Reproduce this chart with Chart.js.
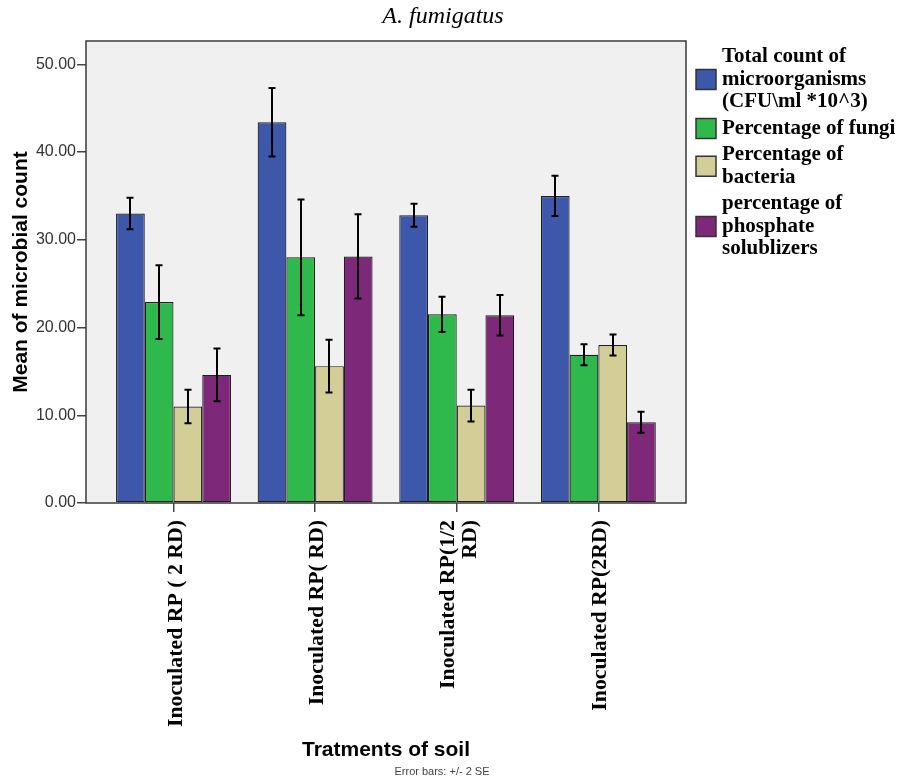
<!DOCTYPE html>
<html>
<head>
<meta charset="utf-8">
<script src="https://cdn.jsdelivr.net/npm/chart.js@4.4.1/dist/chart.umd.min.js"></script>
<style>
html,body{margin:0;padding:0;background:#fff;}
#wrap{width:912px;height:778px;position:relative;}
</style>
</head>
<body>
<div id="wrap"><canvas id="c" width="912" height="778"></canvas></div>
<script>
// ---- data ----
const chartTitle = "A. fumigatus";
const categories = ["Inoculated RP ( 2 RD)", "Inoculated RP( RD)", ["Inoculated RP(1/2", "RD)"], "Inoculated RP(2RD)"];
const seriesNames = [
  ["Total count of", "microorganisms", "(CFU\\ml *10^3)"],
  ["Percentage of fungi"],
  ["Percentage of", "bacteria"],
  ["percentage of", "phosphate", "solublizers"]
];
const totalCount = [33.0, 43.4, 32.8, 35.0];
const fungi      = [22.9, 28.0, 21.5, 16.9];
const bacteria   = [11.0, 15.6, 11.1, 18.0];
const phosphate  = [14.6, 28.1, 21.4, 9.2];
// +/- 2 SE
const totalErr     = [1.8, 3.9, 1.3, 2.3];
const fungiErr     = [4.2, 6.6, 2.0, 1.2];
const bacteriaErr  = [1.9, 3.0, 1.8, 1.2];
const phosphateErr = [3.0, 4.8, 2.3, 1.2];
const yTicks = [0, 10, 20, 30, 40, 50];
const xTitle = "Tratments of soil";
const yTitle = "Mean of microbial count";
const footNote = "Error bars: +/- 2 SE";

// ---- styles ----
const colors = ["#3D58AA", "#2FB84B", "#D3CE97", "#7E2879"];
const seriesVals = [totalCount, fungi, bacteria, phosphate];
const seriesErrs = [totalErr, fungiErr, bacteriaErr, phosphateErr];

const datasets = seriesVals.map((vals, k) => ({
  label: seriesNames[k].join(" "),
  data: vals.map((v, i) => ({ x: i + 1, y: v })),
  errs: seriesErrs[k],
  backgroundColor: colors[k],
  borderColor: "#1e1e1e",
  borderWidth: 1.2,
  borderSkipped: false,
  categoryPercentage: 0.8116,
  barPercentage: 1.0
}));

const decoPlugin = {
  id: "deco",
  beforeDraw(chart) {
    const { ctx, chartArea: a } = chart;
    ctx.save();
    ctx.fillStyle = "#F0F0F0";
    ctx.fillRect(a.left, a.top, a.right - a.left, a.bottom - a.top);
    ctx.restore();
  },
  afterDatasetsDraw(chart) {
    const { ctx, chartArea: a } = chart;
    const ys = chart.scales.y;
    ctx.save();
    // error bars
    ctx.strokeStyle = "#000";
    ctx.lineWidth = 2;
    chart.data.datasets.forEach((ds, k) => {
      const meta = chart.getDatasetMeta(k);
      meta.data.forEach((bar, i) => {
        const v = ds.data[i].y, e = ds.errs[i];
        const y1 = ys.getPixelForValue(v + e), y2 = ys.getPixelForValue(v - e);
        const x = Math.round(bar.x);
        ctx.beginPath();
        ctx.moveTo(x, y1); ctx.lineTo(x, y2);
        ctx.moveTo(x - 3.5, y1); ctx.lineTo(x + 3.5, y1);
        ctx.moveTo(x - 3.5, y2); ctx.lineTo(x + 3.5, y2);
        ctx.stroke();
      });
    });
    // frame
    ctx.strokeStyle = "#3a3a3a";
    ctx.lineWidth = 1.5;
    ctx.strokeRect(a.left, a.top, a.right - a.left, a.bottom - a.top);
    ctx.restore();
  },
  afterDraw(chart) {
    const { ctx, chartArea: a } = chart;
    const xs = chart.scales.x;
    ctx.save();
    // title
    ctx.fillStyle = "#000";
    ctx.font = "italic 24px 'Liberation Serif'";
    ctx.textAlign = "center";
    ctx.textBaseline = "middle";
    ctx.fillText(chartTitle, 443, 17);
    // x tick labels (rotated)
    ctx.font = "bold 21.8px 'Liberation Serif'";
    categories.forEach((lab, i) => {
      const lines = Array.isArray(lab) ? lab : [lab];
      const px = xs.getPixelForValue(i + 1) + 2.5;
      const lh = 22.5;
      lines.forEach((ln, j) => {
        const off = (j - (lines.length - 1) / 2) * lh;
        ctx.save();
        ctx.translate(px + off, a.bottom + 17);
        ctx.rotate(-Math.PI / 2);
        ctx.textAlign = "right";
        ctx.textBaseline = "middle";
        ctx.fillText(ln, 0, 0);
        ctx.restore();
      });
    });
    // footnote
    ctx.font = "11px 'Liberation Sans'";
    ctx.fillStyle = "#444";
    ctx.textAlign = "center";
    ctx.textBaseline = "middle";
    ctx.fillText(footNote, 442, 772);
    // legend
    const lx = 696, tx = 722, lh = 22.5, gap = 26.5;
    let y = 58;
    ctx.font = "bold 21px 'Liberation Serif'";
    ctx.textAlign = "left";
    ctx.textBaseline = "middle";
    seriesNames.forEach((lines, k) => {
      const first = y;
      lines.forEach((ln, j) => {
        ctx.fillStyle = "#000";
        ctx.fillText(ln, tx, y - 1);
        if (j < lines.length - 1) y += lh;
      });
      const mid = (first + y) / 2;
      ctx.fillStyle = colors[k];
      ctx.fillRect(lx, mid - 11, 20, 20);
      ctx.strokeStyle = "#333";
      ctx.lineWidth = 1.5;
      ctx.strokeRect(lx, mid - 11, 20, 20);
      y += gap;
    });
    ctx.restore();
  }
};

new Chart(document.getElementById("c"), {
  type: "bar",
  data: { datasets },
  options: {
    responsive: false,
    devicePixelRatio: 1,
    animation: false,
    layout: { padding: { left: 0, right: 226, top: 41, bottom: 0 } },
    plugins: { legend: { display: false }, title: { display: false }, tooltip: { enabled: false } },
    scales: {
      x: {
        type: "linear",
        min: 0.382,
        max: 4.619,
        offset: false,
        afterBuildTicks: s => { s.ticks = categories.map((_, i) => ({ value: i + 1 })); },
        afterFit: s => { s.height = 275; },
        grid: { display: true, offset: false, drawOnChartArea: false, drawTicks: true, tickLength: 9, color: "#444", lineWidth: 1.5 },
        border: { display: false },
        ticks: { display: false },
        title: { display: true, text: xTitle, color: "#000",
          font: { family: "'Liberation Sans'", size: 21, weight: "bold" },
          padding: { top: 0, bottom: 15 } }
      },
      y: {
        min: 0,
        max: 52.66,
        afterBuildTicks: s => { s.ticks = yTicks.map(v => ({ value: v })); },
        afterFit: s => { s.width = 86; },
        ticks: { callback: v => Number(v).toFixed(2), color: "#333", padding: 1,
          font: { family: "'Liberation Sans'", size: 16 } },
        grid: { display: true, drawOnChartArea: false, drawTicks: true, tickLength: 9, color: "#444", lineWidth: 1.5 },
        border: { display: false },
        title: { display: true, text: yTitle, color: "#000",
          font: { family: "'Liberation Sans'", size: 21, weight: "bold" },
          padding: { top: 9, bottom: 0 } }
      }
    }
  },
  plugins: [decoPlugin]
});
</script>
</body>
</html>
